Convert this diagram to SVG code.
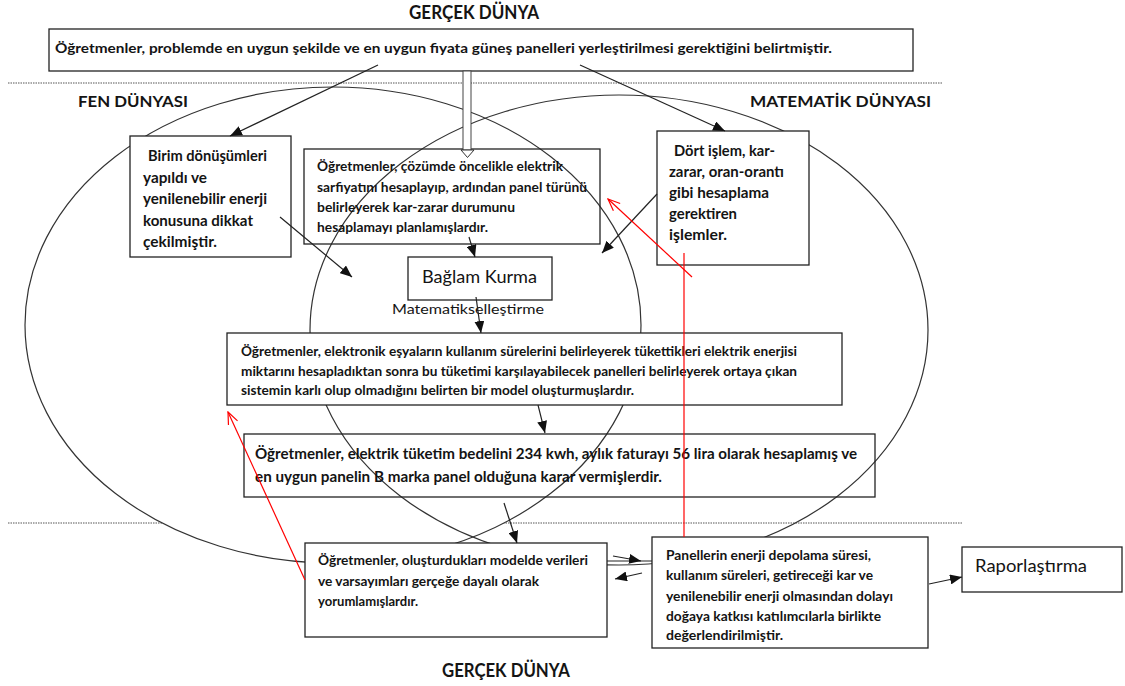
<svg xmlns="http://www.w3.org/2000/svg" width="1125" height="686" viewBox="0 0 1125 686">
<style>
.t{font-family:Lato,"Open Sans","Liberation Sans",sans-serif;fill:#141414}
.b{font-weight:bold}
.box{fill:#fff;stroke:#222;stroke-width:1.3}
.obox{fill:none;stroke:#222;stroke-width:1.3}
.ell{stroke:#333;stroke-width:1.2}
.dot{stroke:#555;stroke-width:1;stroke-dasharray:1.5 1}
.c{stroke:#222;stroke-width:1.2;fill:none}
.r{stroke:#ff0000;stroke-width:1.2;fill:none}
</style>
<defs>
<marker id="ah" viewBox="0 0 12 10" refX="12" refY="5" markerWidth="12" markerHeight="10" markerUnits="userSpaceOnUse" orient="auto"><path d="M0,0 L12,5 L0,10 z" fill="#111"/></marker>
<marker id="rh" viewBox="0 0 14 12" refX="13" refY="6" markerWidth="14" markerHeight="12" markerUnits="userSpaceOnUse" orient="auto"><path d="M1,1 L13,6 L1,11" fill="none" stroke="#ff0000" stroke-width="1.2"/></marker>
</defs>
<rect width="1125" height="686" fill="#fff"/>

<g id="background">
<line class="dot" x1="8" y1="83" x2="943" y2="83"/>
<line class="dot" x1="8" y1="523" x2="962" y2="523"/>
<ellipse id="fen-ellipse" class="ell" cx="333" cy="325" rx="308" ry="238" fill="#fff"/>
<ellipse id="mat-ellipse" class="ell" cx="619" cy="330" rx="309" ry="235" fill="none"/>
<text class="t b" x="409" y="19" font-size="18" textLength="130" lengthAdjust="spacingAndGlyphs">GERÇEK DÜNYA</text>
<text class="t b" x="78" y="107" font-size="16" textLength="110" lengthAdjust="spacingAndGlyphs">FEN DÜNYASI</text>
<text class="t b" x="750" y="107" font-size="16" textLength="181" lengthAdjust="spacingAndGlyphs">MATEMATİK DÜNYASI</text>
<text class="t b" x="442" y="677" font-size="18" textLength="128" lengthAdjust="spacingAndGlyphs">GERÇEK DÜNYA</text>
</g>

<g id="node-top">
<rect class="box" x="49" y="29" width="864" height="42"/>
<text class="t b" x="55" y="53" font-size="13.5" textLength="777" lengthAdjust="spacingAndGlyphs">Öğretmenler, problemde en uygun şekilde ve en uygun fiyata güneş panelleri yerleştirilmesi gerektiğini belirtmiştir.</text>
</g>

<g id="node-birim">
<rect class="box" x="130" y="136" width="161" height="121"/>
<text class="t b" font-size="15">
<tspan x="148" y="161" textLength="119" lengthAdjust="spacingAndGlyphs">Birim dönüşümleri</tspan>
<tspan x="143" y="182.5" textLength="64" lengthAdjust="spacingAndGlyphs">yapıldı ve</tspan>
<tspan x="143" y="204" textLength="124" lengthAdjust="spacingAndGlyphs">yenilenebilir enerji</tspan>
<tspan x="143" y="225.5" textLength="110" lengthAdjust="spacingAndGlyphs">konusuna dikkat</tspan>
<tspan x="143" y="247" textLength="74" lengthAdjust="spacingAndGlyphs">çekilmiştir.</tspan>
</text>
</g>

<g id="node-plan">
<rect class="obox" x="304" y="149" width="296" height="95"/>
<text class="t b" font-size="13">
<tspan x="317" y="171" textLength="246" lengthAdjust="spacingAndGlyphs">Öğretmenler, çözümde öncelikle elektrik</tspan>
<tspan x="317" y="192" textLength="270" lengthAdjust="spacingAndGlyphs">sarfiyatını hesaplayıp, ardından panel türünü</tspan>
<tspan x="317" y="212" textLength="198" lengthAdjust="spacingAndGlyphs">belirleyerek kar-zarar durumunu</tspan>
<tspan x="317" y="232" textLength="171" lengthAdjust="spacingAndGlyphs">hesaplamayı planlamışlardır.</tspan>
</text>
</g>

<g id="node-dort">
<rect class="box" x="657" y="131" width="152" height="134"/>
<text class="t b" font-size="15">
<tspan x="674" y="156" textLength="101" lengthAdjust="spacingAndGlyphs">Dört işlem, kar-</tspan>
<tspan x="669" y="177" textLength="115" lengthAdjust="spacingAndGlyphs">zarar, oran-orantı</tspan>
<tspan x="669" y="198" textLength="100" lengthAdjust="spacingAndGlyphs">gibi hesaplama</tspan>
<tspan x="669" y="219" textLength="68" lengthAdjust="spacingAndGlyphs">gerektiren</tspan>
<tspan x="669" y="240" textLength="58" lengthAdjust="spacingAndGlyphs">işlemler.</tspan>
</text>
</g>

<g id="node-baglam">
<rect class="box" x="408" y="257" width="144" height="43"/>
<text class="t" x="422" y="283" font-size="17" textLength="115" lengthAdjust="spacingAndGlyphs">Bağlam Kurma</text>
</g>

<g id="label-matematik">
<text class="t" x="392" y="314" font-size="14" textLength="152" lengthAdjust="spacingAndGlyphs" fill="#222">Matematikselleştirme</text>
</g>

<g id="node-model">
<rect class="box" x="227" y="333" width="615" height="72"/>
<text class="t b" font-size="13">
<tspan x="241" y="356" textLength="556" lengthAdjust="spacingAndGlyphs">Öğretmenler, elektronik eşyaların kullanım sürelerini belirleyerek tükettikleri elektrik enerjisi</tspan>
<tspan x="241" y="376" textLength="556" lengthAdjust="spacingAndGlyphs">miktarını hesapladıktan sonra bu tüketimi karşılayabilecek panelleri belirleyerek ortaya çıkan</tspan>
<tspan x="241" y="395" textLength="393" lengthAdjust="spacingAndGlyphs">sistemin karlı olup olmadığını belirten bir model oluşturmuşlardır.</tspan>
</text>
</g>

<g id="node-sonuc">
<rect class="obox" x="244" y="434" width="631" height="63"/>
<text class="t b" font-size="15">
<tspan x="255" y="459" textLength="602" lengthAdjust="spacingAndGlyphs">Öğretmenler, elektrik tüketim bedelini 234 kwh, aylık faturayı 56 lira olarak hesaplamış ve</tspan>
<tspan x="255" y="482" textLength="407" lengthAdjust="spacingAndGlyphs">en uygun panelin B marka panel olduğuna karar vermişlerdir.</tspan>
</text>
</g>

<g id="node-yorum">
<rect class="box" x="305" y="543" width="302" height="94"/>
<text class="t b" font-size="13">
<tspan x="318" y="565" textLength="270" lengthAdjust="spacingAndGlyphs">Öğretmenler, oluşturdukları modelde verileri</tspan>
<tspan x="318" y="586" textLength="221" lengthAdjust="spacingAndGlyphs">ve varsayımları gerçeğe dayalı olarak</tspan>
<tspan x="318" y="606" textLength="100" lengthAdjust="spacingAndGlyphs">yorumlamışlardır.</tspan>
</text>
</g>

<g id="node-panel">
<rect class="box" x="652" y="537" width="276" height="111"/>
<text class="t b" font-size="13">
<tspan x="666" y="560" textLength="205" lengthAdjust="spacingAndGlyphs">Panellerin enerji depolama süresi,</tspan>
<tspan x="666" y="580" textLength="207" lengthAdjust="spacingAndGlyphs">kullanım süreleri, getireceği kar ve</tspan>
<tspan x="666" y="601" textLength="227" lengthAdjust="spacingAndGlyphs">yenilenebilir enerji olmasından dolayı</tspan>
<tspan x="666" y="621" textLength="215" lengthAdjust="spacingAndGlyphs">doğaya katkısı katılımcılarla birlikte</tspan>
<tspan x="666" y="640" textLength="117" lengthAdjust="spacingAndGlyphs">değerlendirilmiştir.</tspan>
</text>
</g>

<g id="node-rapor">
<rect class="box" x="962" y="547" width="160" height="45"/>
<text class="t" x="975" y="572" font-size="17" textLength="112" lengthAdjust="spacingAndGlyphs">Raporlaştırma</text>
</g>

<g id="connectors">
<rect x="463" y="71" width="8" height="79" fill="#fff" stroke="#444" stroke-width="1"/>
<polygon points="461,150 474,150 467.5,157.5" fill="#fff" stroke="#333" stroke-width="1"/>
<line class="c" x1="378" y1="65" x2="230" y2="136" marker-end="url(#ah)"/>
<line class="c" x1="580" y1="65" x2="725" y2="131" marker-end="url(#ah)"/>
<line class="c" x1="280" y1="217" x2="352" y2="277" marker-end="url(#ah)"/>
<line class="c" x1="657" y1="194" x2="602" y2="253" marker-end="url(#ah)"/>
<line class="c" x1="469" y1="237" x2="475" y2="257" marker-end="url(#ah)"/>
<line class="c" x1="476" y1="297" x2="481" y2="333" marker-end="url(#ah)"/>
<line class="c" x1="538" y1="405" x2="545" y2="433" marker-end="url(#ah)"/>
<line class="c" x1="504" y1="503" x2="517" y2="543" marker-end="url(#ah)"/>
<line class="c" x1="607" y1="561" x2="652" y2="561"/>
<line class="c" x1="613" y1="556" x2="641" y2="561" marker-end="url(#ah)"/>
<line class="c" x1="642" y1="573" x2="615" y2="579" marker-end="url(#ah)"/>
<line class="c" x1="929" y1="584" x2="962" y2="577" marker-end="url(#ah)"/>
<line class="r" x1="684" y1="253" x2="684" y2="537"/>
<line class="r" x1="692" y1="277" x2="608" y2="199" marker-end="url(#rh)"/>
<line class="r" x1="305" y1="580" x2="228" y2="412" marker-end="url(#rh)"/>
</g>
</svg>
